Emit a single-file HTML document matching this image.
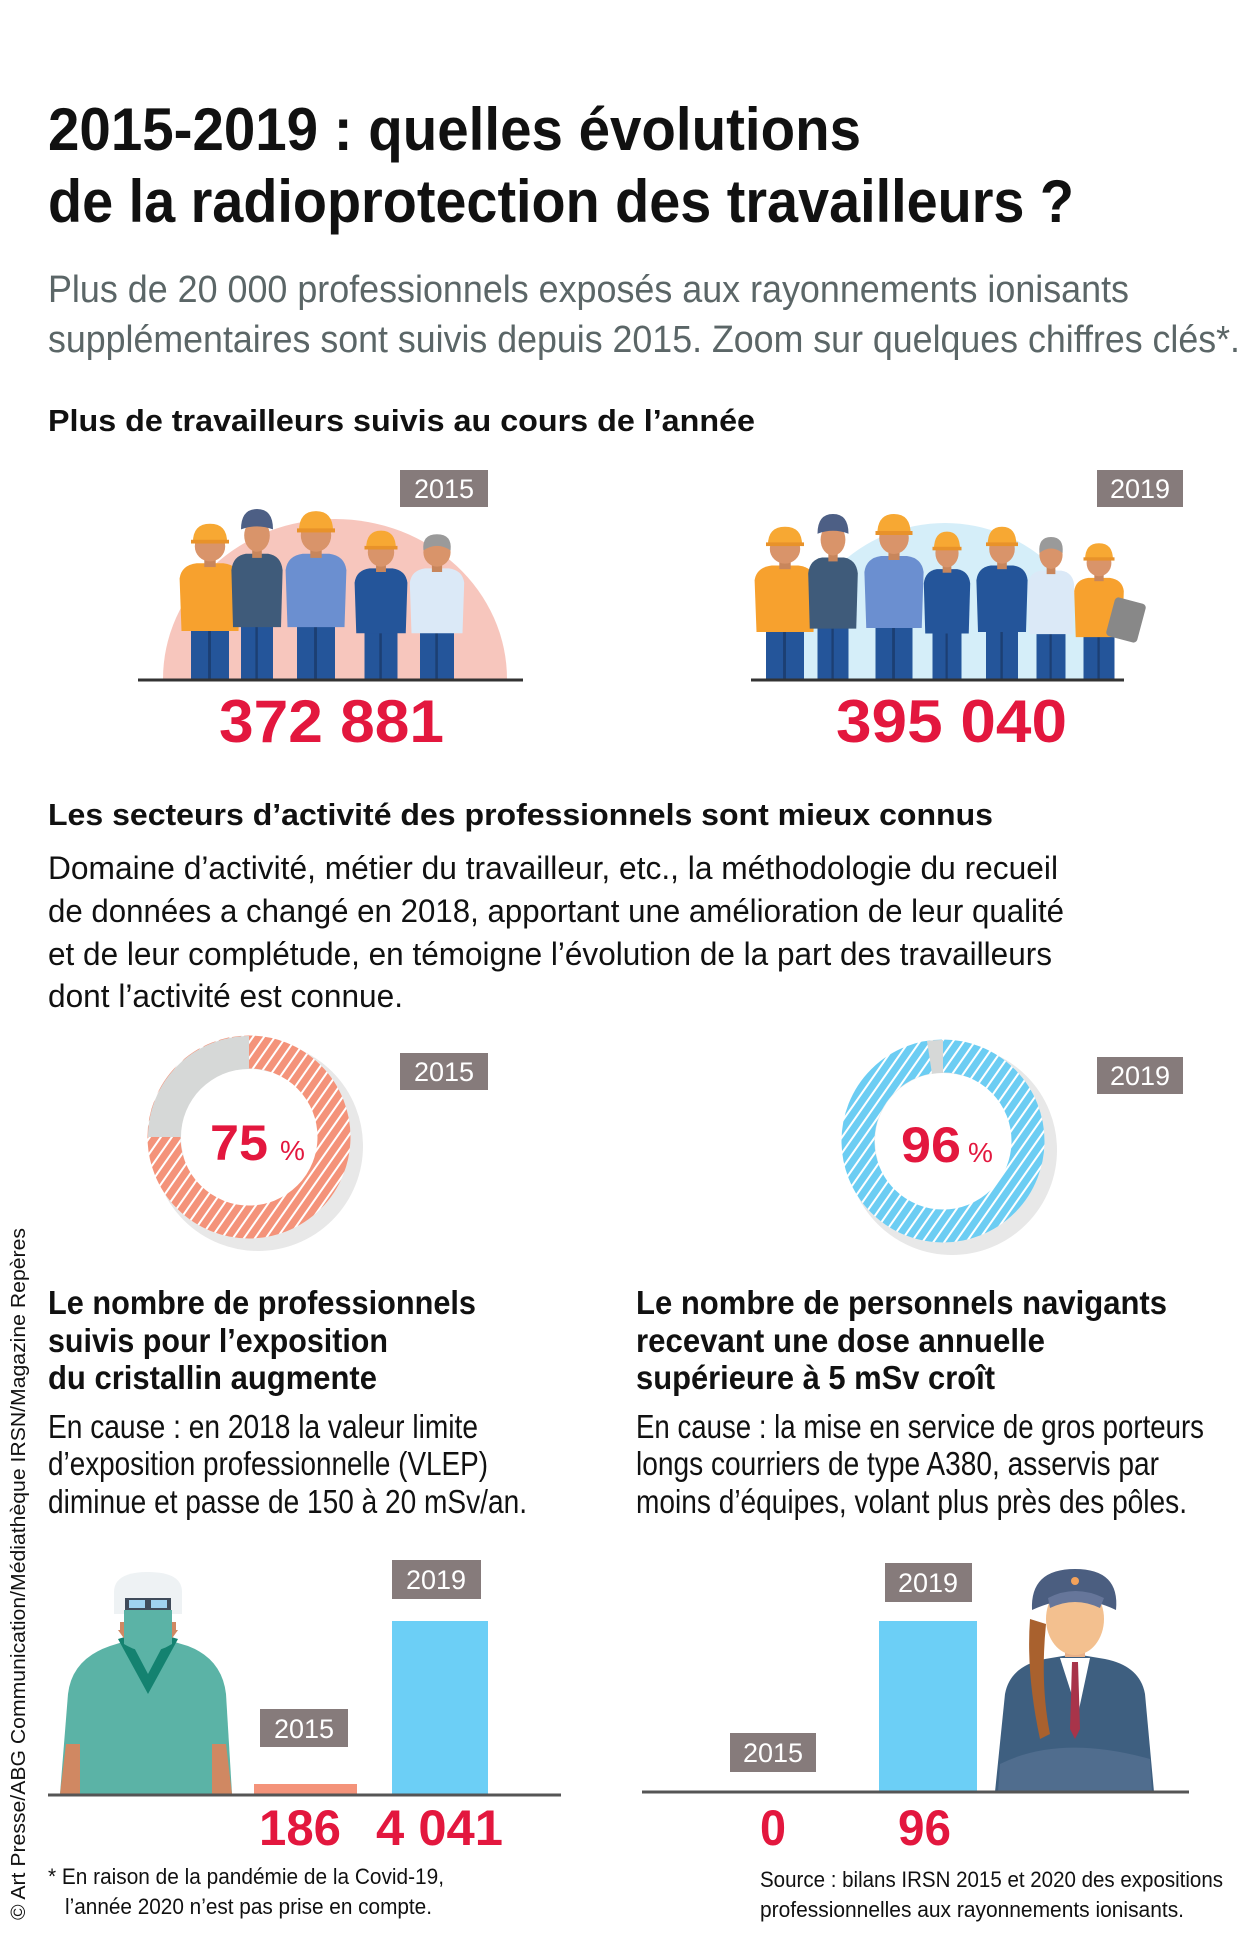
<!DOCTYPE html>
<html><head><meta charset="utf-8"><style>
html,body{margin:0;padding:0;background:#fff;}
svg{display:block;}
text{font-family:"Liberation Sans",sans-serif;}
.b{font-weight:bold;}
</style></head><body>
<svg width="1252" height="1955" viewBox="0 0 1252 1955" xmlns="http://www.w3.org/2000/svg">
<defs>
<pattern id="hr" width="9" height="9" patternUnits="userSpaceOnUse" patternTransform="rotate(35)">
<rect width="9" height="9" fill="#f4937a"/><rect width="2" height="9" fill="#fff"/></pattern>
<pattern id="hb" width="9" height="9" patternUnits="userSpaceOnUse" patternTransform="rotate(35)">
<rect width="9" height="9" fill="#6ccdf3"/><rect width="2" height="9" fill="#fff"/></pattern>
<symbol id="p" viewBox="0 0 80 170" preserveAspectRatio="none">
<rect x="20" y="112" width="40" height="58" fill="#24559a"/>
<rect x="38" y="118" width="3" height="52" fill="#1c3f73"/>
<path d="M8 62 Q10 48 26 46 L54 46 Q70 48 72 62 L70 118 L10 118 Z" fill="currentColor"/>
<rect x="34" y="38" width="12" height="12" fill="#c8865c"/>
<circle cx="40" cy="28" r="16" fill="#d9946a"/>
</symbol>
<symbol id="hm" viewBox="0 0 80 170" preserveAspectRatio="none">
<path d="M22 24 Q22 4 40 4 Q58 4 58 24 Z" fill="#f7a833"/><rect x="20" y="21" width="40" height="4" fill="#e8922a"/></symbol>
<symbol id="cp" viewBox="0 0 80 170" preserveAspectRatio="none">
<path d="M20 22 Q20 2 40 2 Q60 2 60 22 Q40 16 20 22Z" fill="#4d5f85"/></symbol>
<symbol id="gh" viewBox="0 0 80 170" preserveAspectRatio="none">
<path d="M24 26 Q22 8 40 8 Q58 8 56 26 Q40 16 24 26Z" fill="#9a9a9a"/></symbol>
</defs>

<text x="48" y="150" class="b" font-size="60" fill="#111" textLength="813" lengthAdjust="spacingAndGlyphs">2015-2019 : quelles évolutions</text>
<text x="48" y="222" class="b" font-size="60" fill="#111" textLength="1026" lengthAdjust="spacingAndGlyphs">de la radioprotection des travailleurs ?</text>
<text x="48" y="302" font-size="38" fill="#5b6667" textLength="1081" lengthAdjust="spacingAndGlyphs">Plus de 20 000 professionnels exposés aux rayonnements ionisants</text>
<text x="48" y="352" font-size="38" fill="#5b6667" textLength="1192" lengthAdjust="spacingAndGlyphs">supplémentaires sont suivis depuis 2015. Zoom sur quelques chiffres clés*.</text>

<text x="48" y="431" class="b" font-size="31" fill="#111" textLength="707" lengthAdjust="spacingAndGlyphs">Plus de travailleurs suivis au cours de l’année</text>

<g fill="#867b7b">
<rect x="400" y="470" width="88" height="37"/><rect x="1097" y="470" width="86" height="37"/>
<rect x="400" y="1053" width="88" height="37"/><rect x="1097" y="1057" width="86" height="37"/>
<rect x="392" y="1560" width="89" height="39"/><rect x="260" y="1709" width="88" height="38"/>
<rect x="885" y="1563" width="87" height="39"/><rect x="730" y="1733" width="86" height="39"/>
</g>
<g fill="#fff" font-size="27" text-anchor="middle">
<text x="444" y="498">2015</text><text x="1140" y="498">2019</text>
<text x="444" y="1081">2015</text><text x="1140" y="1085">2019</text>
<text x="436" y="1589">2019</text><text x="304" y="1738">2015</text>
<text x="928" y="1592">2019</text><text x="773" y="1762">2015</text>
</g>

<path d="M163 679 A172 160 0 0 1 507 679 Z" fill="#f7c6bd"/>
<path d="M790 679 A155 156 0 0 1 1100 679 Z" fill="#d5eef9"/>
<g>
<use href="#p" x="172" y="520" width="76" height="160" color="#f7a12e"/><use href="#hm" x="172" y="520" width="76" height="160"/>
<use href="#p" x="225" y="507" width="64" height="173" color="#3f5b7a"/><use href="#cp" x="225" y="507" width="64" height="173"/>
<use href="#p" x="278" y="507" width="76" height="173" color="#6b8fd0"/><use href="#hm" x="278" y="507" width="76" height="173"/>
<use href="#p" x="348" y="527" width="66" height="153" color="#24559a"/><use href="#hm" x="348" y="527" width="66" height="153"/>
<use href="#p" x="403" y="527" width="68" height="153" color="#dbe9f7"/><use href="#gh" x="403" y="527" width="68" height="153"/>
</g>
<g>
<use href="#p" x="747" y="523" width="76" height="157" color="#f7a12e"/><use href="#hm" x="747" y="523" width="76" height="157"/>
<use href="#p" x="802" y="512" width="62" height="168" color="#3f5b7a"/><use href="#cp" x="802" y="512" width="62" height="168"/>
<use href="#p" x="857" y="510" width="74" height="170" color="#6b8fd0"/><use href="#hm" x="857" y="510" width="74" height="170"/>
<use href="#p" x="918" y="528" width="58" height="152" color="#24559a"/><use href="#hm" x="918" y="528" width="58" height="152"/>
<use href="#p" x="970" y="523" width="64" height="157" color="#24559a"/><use href="#hm" x="970" y="523" width="64" height="157"/>
<use href="#p" x="1022" y="530" width="58" height="150" color="#dbe9f7"/><use href="#gh" x="1022" y="530" width="58" height="150"/>
<use href="#p" x="1068" y="540" width="62" height="140" color="#f7a12e"/><use href="#hm" x="1068" y="540" width="62" height="140"/>
<rect x="1110" y="600" width="32" height="40" rx="4" fill="#888" transform="rotate(15 1126 620)"/>
</g>
<path d="M138 680 L523 680" stroke="#333" stroke-width="3"/>
<path d="M751 680 L1124 680" stroke="#333" stroke-width="3"/>

<text x="219" y="742" class="b" font-size="60" fill="#e3173e" textLength="225" lengthAdjust="spacingAndGlyphs">372 881</text>
<text x="836" y="742" class="b" font-size="60" fill="#e3173e" textLength="231" lengthAdjust="spacingAndGlyphs">395 040</text>

<text x="48" y="825" class="b" font-size="31" fill="#111" textLength="945" lengthAdjust="spacingAndGlyphs">Les secteurs d’activité des professionnels sont mieux connus</text>
<g font-size="32" fill="#111">
<text x="48" y="879" textLength="1010" lengthAdjust="spacingAndGlyphs">Domaine d’activité, métier du travailleur, etc., la méthodologie du recueil</text>
<text x="48" y="922" textLength="1016" lengthAdjust="spacingAndGlyphs">de données a changé en 2018, apportant une amélioration de leur qualité</text>
<text x="48" y="965" textLength="1004" lengthAdjust="spacingAndGlyphs">et de leur complétude, en témoigne l’évolution de la part des travailleurs</text>
<text x="48" y="1007" textLength="355" lengthAdjust="spacingAndGlyphs">dont l’activité est connue.</text>
</g>

<circle cx="258" cy="1146" r="90" fill="none" stroke="#e8e8e8" stroke-width="30"/>
<circle cx="249" cy="1137" r="85" fill="none" stroke="url(#hr)" stroke-width="33"/>
<path d="M249 1036 A101 101 0 0 0 148 1137 L181 1137 A68 68 0 0 1 249 1069 Z" fill="#d6d8d7"/>
<circle cx="249" cy="1137" r="68" fill="#fff"/>
<text x="210" y="1160" class="b" font-size="50" fill="#e3173e" textLength="58" lengthAdjust="spacingAndGlyphs">75</text>
<text x="280" y="1160" font-size="28" fill="#e3173e">%</text>

<circle cx="952" cy="1150" r="90" fill="none" stroke="#e8e8e8" stroke-width="30"/>
<circle cx="943" cy="1141" r="85" fill="none" stroke="url(#hb)" stroke-width="33"/>
<path d="M943 1040 L943 1073 A68 68 0 0 0 932 1074 L927 1041 A101 101 0 0 1 943 1040Z" fill="#d6d8d7"/>
<circle cx="943" cy="1141" r="68" fill="#fff"/>
<text x="901" y="1162" class="b" font-size="50" fill="#e3173e" textLength="60" lengthAdjust="spacingAndGlyphs">96</text>
<text x="968" y="1162" font-size="28" fill="#e3173e">%</text>

<g font-size="33" fill="#111" font-weight="bold">
<text x="48" y="1314" textLength="428" lengthAdjust="spacingAndGlyphs">Le nombre de professionnels</text>
<text x="48" y="1352" textLength="340" lengthAdjust="spacingAndGlyphs">suivis pour l’exposition</text>
<text x="48" y="1389" textLength="329" lengthAdjust="spacingAndGlyphs">du cristallin augmente</text>
<text x="636" y="1314" textLength="531" lengthAdjust="spacingAndGlyphs">Le nombre de personnels navigants</text>
<text x="636" y="1352" textLength="409" lengthAdjust="spacingAndGlyphs">recevant une dose annuelle</text>
<text x="636" y="1389" textLength="359" lengthAdjust="spacingAndGlyphs">supérieure à 5 mSv croît</text>
</g>
<g font-size="33" fill="#111">
<text x="48" y="1438" textLength="430" lengthAdjust="spacingAndGlyphs">En cause : en 2018 la valeur limite</text>
<text x="48" y="1475" textLength="440" lengthAdjust="spacingAndGlyphs">d’exposition professionnelle (VLEP)</text>
<text x="48" y="1513" textLength="479" lengthAdjust="spacingAndGlyphs">diminue et passe de 150 à 20 mSv/an.</text>
<text x="636" y="1438" textLength="568" lengthAdjust="spacingAndGlyphs">En cause : la mise en service de gros porteurs</text>
<text x="636" y="1475" textLength="523" lengthAdjust="spacingAndGlyphs">longs courriers de type A380, asservis par</text>
<text x="636" y="1513" textLength="551" lengthAdjust="spacingAndGlyphs">moins d’équipes, volant plus près des pôles.</text>
</g>

<g transform="translate(0 -6)">
<path d="M60 1800 L68 1700 Q72 1665 110 1652 L148 1640 L188 1652 Q222 1665 226 1700 L232 1800 Z" fill="#5bb3a6"/>
<path d="M118 1645 L148 1700 L178 1645 L168 1642 L148 1680 L128 1642 Z" fill="#148270"/>
<path d="M60 1800 L66 1750 L80 1750 L80 1800Z M232 1800 L226 1750 L212 1750 L212 1800Z" fill="#d08862"/>
<path d="M118 1636 L178 1636 L168 1650 L128 1650Z" fill="#d08862"/>
<path d="M114 1598 Q114 1578 148 1578 Q182 1578 182 1598 L182 1620 L114 1620Z" fill="#eef2f4"/>
<rect x="120" y="1628" width="56" height="8" fill="#d08862"/>
<path d="M124 1616 L172 1616 L172 1650 Q148 1665 124 1650Z" fill="#5bb3a6"/>
<rect x="125" y="1604" width="46" height="12" fill="#3f4b5a"/><rect x="129" y="1606" width="16" height="8" fill="#9fd2f0"/><rect x="151" y="1606" width="16" height="8" fill="#9fd2f0"/>
<rect x="254" y="1790" width="103" height="10" fill="#f4937a"/>
<rect x="392" y="1627" width="96" height="173" fill="#6ccff6"/>
<path d="M48 1801 L561 1801" stroke="#555" stroke-width="3"/>
</g>

<g transform="translate(0 -6)">
<path d="M995 1798 L1005 1700 Q1010 1672 1045 1665 L1075 1660 L1105 1665 Q1140 1672 1145 1700 L1154 1798Z" fill="#3e5f80"/>
<path d="M1060 1664 L1090 1664 L1078 1720 Z" fill="#fff"/>
<path d="M1072 1668 L1078 1668 L1080 1735 L1075 1745 L1070 1735Z" fill="#a8344a"/>
<path d="M1030 1625 Q1026 1680 1040 1745 L1050 1740 Q1040 1690 1046 1630Z" fill="#a9612e"/>
<rect x="1065" y="1645" width="20" height="18" fill="#e8b088"/>
<ellipse cx="1075" cy="1625" rx="29" ry="36" fill="#f3c08f"/>
<path d="M1032 1616 Q1030 1575 1075 1575 Q1120 1575 1116 1616 Q1075 1596 1032 1616Z" fill="#4b5e80"/>
<path d="M1048 1604 Q1075 1590 1104 1604 L1100 1614 Q1075 1602 1050 1614Z" fill="#66769a"/>
<circle cx="1075" cy="1587" r="4" fill="#f4a25a"/>
<path d="M1000 1770 Q1060 1740 1150 1765 L1152 1798 L998 1798Z" fill="#506d8e"/>
<rect x="879" y="1627" width="98" height="171" fill="#6ccff6"/>
<path d="M642 1798 L1189 1798" stroke="#555" stroke-width="3"/>
</g>

<g font-size="50" fill="#e3173e" font-weight="bold">
<text x="259" y="1845" textLength="82" lengthAdjust="spacingAndGlyphs">186</text>
<text x="376" y="1845" textLength="127" lengthAdjust="spacingAndGlyphs">4 041</text>
<text x="760" y="1845" textLength="26" lengthAdjust="spacingAndGlyphs">0</text>
<text x="898" y="1845" textLength="53" lengthAdjust="spacingAndGlyphs">96</text>
</g>

<g font-size="22" fill="#111">
<text x="48" y="1884" textLength="396" lengthAdjust="spacingAndGlyphs">* En raison de la pandémie de la Covid-19,</text>
<text x="65" y="1914" textLength="367" lengthAdjust="spacingAndGlyphs">l’année 2020 n’est pas prise en compte.</text>
<text x="760" y="1887" textLength="463" lengthAdjust="spacingAndGlyphs">Source : bilans IRSN 2015 et 2020 des expositions</text>
<text x="760" y="1917" textLength="424" lengthAdjust="spacingAndGlyphs">professionnelles aux rayonnements ionisants.</text>
</g>
<text transform="translate(25 1920) rotate(-90)" font-size="20" fill="#111" textLength="692" lengthAdjust="spacingAndGlyphs">© Art Presse/ABG Communication/Médiathèque IRSN/Magazine Repères</text>
</svg>
</body></html>
